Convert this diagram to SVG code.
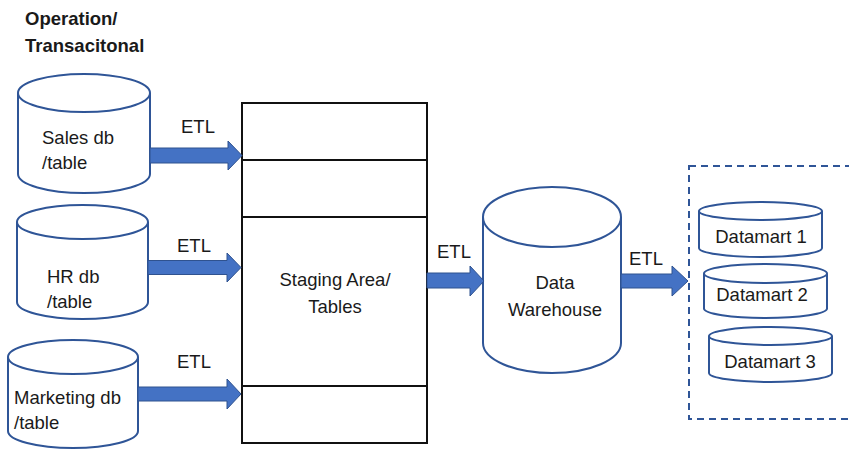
<svg xmlns="http://www.w3.org/2000/svg" width="849" height="457" viewBox="0 0 849 457">
<style>
.cyl{fill:#fff;stroke:#2F5597;stroke-width:2}
.arr{fill:#4472C4;stroke:#2F528F;stroke-width:1}
.t{font-family:"Liberation Sans",Arial,sans-serif;font-size:18.5px;fill:#1a1a1a}
.tb{font-family:"Liberation Sans",Arial,sans-serif;font-size:18.5px;font-weight:bold;fill:#1a1a1a}
.mid{text-anchor:middle}
.box{fill:#fff;stroke:#111;stroke-width:2}
</style>
<rect width="849" height="457" fill="#fff"/>
<g id="title">
<text class="tb" x="25" y="25">Operation/</text>
<text class="tb" x="25" y="52">Transacitonal</text>
</g>
<g id="sales">
<path class="cyl" d="M18,93 L18,174 A66,19 0 0 0 150,174 L150,93"/>
<ellipse class="cyl" cx="84" cy="93" rx="66" ry="19"/>
<text class="t" x="42" y="144">Sales db</text>
<text class="t" x="42" y="169">/table</text>
</g>
<g id="hr">
<path class="cyl" d="M17,222 L17,302 A65.5,17 0 0 0 148,302 L148,222"/>
<ellipse class="cyl" cx="82.5" cy="222" rx="65.5" ry="17"/>
<text class="t" x="47" y="283">HR db</text>
<text class="t" x="47" y="308">/table</text>
</g>
<g id="marketing">
<path class="cyl" d="M8,357 L8,431 A65,17 0 0 0 138,431 L138,357"/>
<ellipse class="cyl" cx="73" cy="357" rx="65" ry="17"/>
<text class="t" x="14" y="404">Marketing db</text>
<text class="t" x="14" y="429">/table</text>
</g>
<g id="staging">
<rect class="box" x="242" y="103" width="185" height="340"/>
<line class="box" x1="242" y1="160" x2="427" y2="160"/>
<line class="box" x1="242" y1="217" x2="427" y2="217"/>
<line class="box" x1="242" y1="386" x2="427" y2="386"/>
<text class="t mid" x="335" y="286">Staging Area/</text>
<text class="t mid" x="335" y="313">Tables</text>
</g>
<g id="warehouse">
<path class="cyl" d="M483,217 L483,343 A69,30 0 0 0 621,343 L621,217"/>
<ellipse class="cyl" cx="552" cy="217" rx="69" ry="30"/>
<text class="t mid" x="555" y="289">Data</text>
<text class="t mid" x="555" y="316">Warehouse</text>
</g>
<g id="datamarts">
<rect x="689" y="166" width="175" height="253" fill="none" stroke="#2F5597" stroke-width="2" stroke-dasharray="7,5"/>
<g id="dm1">
<path class="cyl" d="M699,211 L699,248 A61.5,9 0 0 0 822,248 L822,211"/>
<ellipse class="cyl" cx="760.5" cy="211" rx="61.5" ry="9"/>
<text class="t mid" x="761" y="243">Datamart 1</text>
</g>
<g id="dm2">
<path class="cyl" d="M704,273.5 L704,308.5 A61.5,9.5 0 0 0 827,308.5 L827,273.5"/>
<ellipse class="cyl" cx="765.5" cy="273.5" rx="61.5" ry="9.5"/>
<text class="t mid" x="762" y="301">Datamart 2</text>
</g>
<g id="dm3">
<path class="cyl" d="M709,336 L709,373 A61.5,9 0 0 0 832,373 L832,336"/>
<ellipse class="cyl" cx="770.5" cy="336" rx="61.5" ry="9"/>
<text class="t mid" x="770" y="368">Datamart 3</text>
</g>
</g>
<g id="connectors">
<polygon class="arr" points="150,148 228,148 228,141 242,155.5 228,170 228,163 150,163"/>
<polygon class="arr" points="148,260.5 227,260.5 227,253 241,267.5 227,282 227,274.5 148,274.5"/>
<polygon class="arr" points="138,387 227,387 227,379 241,394 227,409 227,401 138,401"/>
<polygon class="arr" points="427,273 470,273 470,266 484,281 470,296 470,288 427,288"/>
<polygon class="arr" points="621,274 672,274 672,266 688,281 672,296 672,288 621,288"/>
<text class="t mid" x="198" y="133">ETL</text>
<text class="t mid" x="194" y="252">ETL</text>
<text class="t mid" x="194" y="368">ETL</text>
<text class="t mid" x="454" y="258">ETL</text>
<text class="t mid" x="646" y="265">ETL</text>
</g>
</svg>
